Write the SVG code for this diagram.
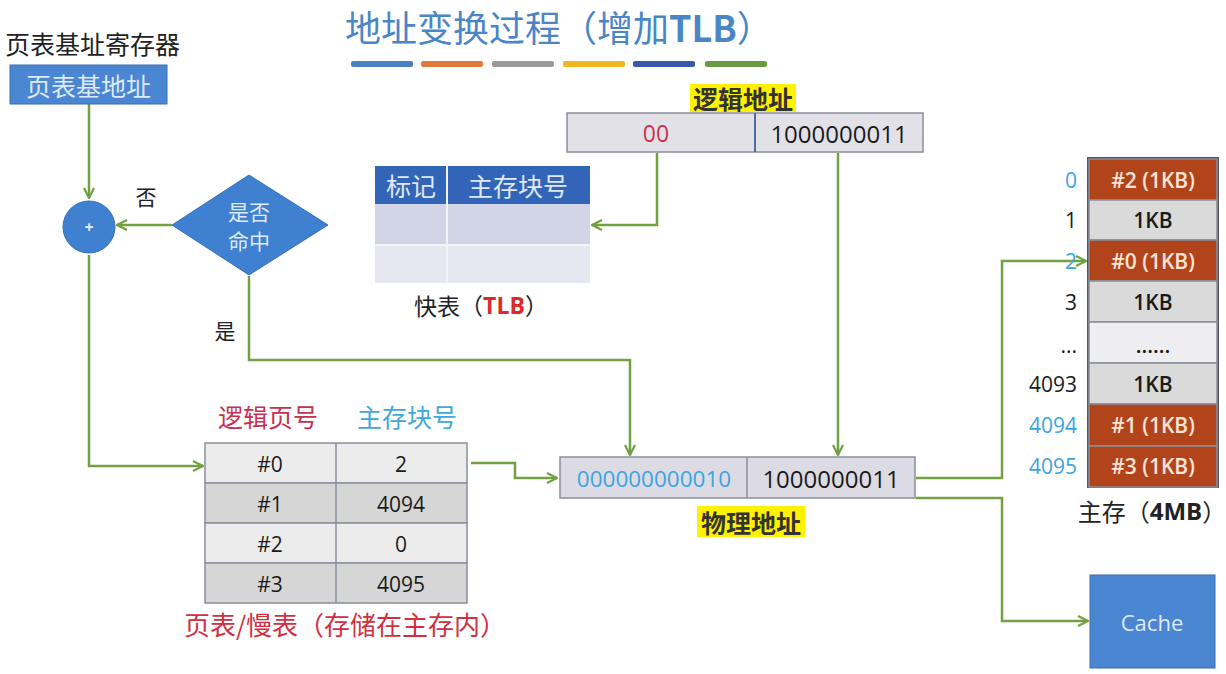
<svg xmlns="http://www.w3.org/2000/svg" width="1226" height="674" viewBox="0 0 1226 674">
  <style>
    .cjk { font-family: "Noto Sans CJK SC", "Liberation Sans", sans-serif; }
    .num { font-family: "Open Sans", "Liberation Sans", sans-serif; }
    .wire { fill: none; stroke: #74a044; stroke-width: 2.5; }
    .cell { stroke: #8a8f9c; stroke-width: 1.5; }
    .mid { text-anchor: middle; dominant-baseline: central; }
  </style>
  <defs>
    <marker id="arrow" viewBox="0 0 12 12" refX="11" refY="6" markerWidth="12" markerHeight="12" markerUnits="userSpaceOnUse" orient="auto">
      <path d="M1,1 L11,6 L1,11" fill="none" stroke="#74a044" stroke-width="2.2"/>
    </marker>
  </defs>

  <rect width="1226" height="674" fill="#ffffff"/>

  <!-- title -->
  <g id="title">
    <text x="345" y="42" class="cjk" font-size="36" fill="#4a86c6">地址变换过程（增加<tspan font-weight="bold">TLB</tspan>）</text>
    <rect x="351" y="61" width="62" height="6" rx="2" fill="#4a7fc0"/>
    <rect x="421" y="61" width="62" height="6" rx="2" fill="#e07a3a"/>
    <rect x="492" y="61" width="62" height="6" rx="2" fill="#9a9a9a"/>
    <rect x="563" y="61" width="62" height="6" rx="2" fill="#f0b820"/>
    <rect x="633" y="61" width="62" height="6" rx="2" fill="#3858a8"/>
    <rect x="705" y="61" width="62" height="6" rx="2" fill="#6a9a44"/>
  </g>

  <!-- connectors -->
  <g id="connectors">
    <path class="wire" d="M89,104 V198" marker-end="url(#arrow)"/>
    <path class="wire" d="M172,225 H117" marker-end="url(#arrow)"/>
    <path class="wire" d="M657,153 V225 H592" marker-end="url(#arrow)"/>
    <path class="wire" d="M838,153 V455" marker-end="url(#arrow)"/>
    <path class="wire" d="M249,276 V360 H630 V455" marker-end="url(#arrow)"/>
    <path class="wire" d="M89,255 V466 H203" marker-end="url(#arrow)"/>
    <path class="wire" d="M471,463 H515 V478 H557" marker-end="url(#arrow)"/>
    <path class="wire" d="M916,478 H1002 V261 H1086" marker-end="url(#arrow)"/>
    <path class="wire" d="M916,498 H1002 V621 H1088" marker-end="url(#arrow)"/>
  </g>

  <!-- page table base register -->
  <g id="ptbr">
    <text x="5" y="54" class="cjk" font-size="25" fill="#222">页表基址寄存器</text>
    <rect x="10" y="65" width="157" height="39" fill="#4a86d2" stroke="#3a6cb0" stroke-width="1"/>
    <text x="88.5" y="85" class="cjk mid" font-size="25" fill="#dfeaf8">页表基地址</text>
  </g>

  <!-- adder -->
  <g id="adder">
    <circle cx="89" cy="227" r="26" fill="#3f80d0" stroke="#3570b8" stroke-width="1"/>
    <text x="89" y="227" class="num mid" font-size="16" font-weight="bold" fill="#e8f0fa">+</text>
  </g>

  <!-- hit decision -->
  <g id="hit">
    <polygon points="249,175 328,225 249,275 172,225" fill="#3f80d0" stroke="#3570b8" stroke-width="1"/>
    <text x="249" y="211" class="cjk mid" font-size="21" fill="#dfeaf8">是否</text>
    <text x="249" y="240" class="cjk mid" font-size="21" fill="#dfeaf8">命中</text>
    <text x="146" y="196" class="cjk mid" font-size="21" fill="#222">否</text>
    <text x="225" y="330" class="cjk mid" font-size="21" fill="#222">是</text>
  </g>

  <!-- TLB -->
  <g id="tlb">
    <rect x="375" y="166" width="215" height="38" fill="#3264b8"/>
    <rect x="375" y="204" width="215" height="41" fill="#d2d5e6"/>
    <rect x="375" y="245" width="215" height="38" fill="#e6e7f1"/>
    <line x1="447" y1="166" x2="447" y2="283" stroke="#f4f4f8" stroke-width="2"/>
    <line x1="375" y1="245" x2="590" y2="245" stroke="#f4f4f8" stroke-width="2"/>
    <text x="411" y="185" class="cjk mid" font-size="25" fill="#e0e8f6">标记</text>
    <text x="518" y="185" class="cjk mid" font-size="25" fill="#e0e8f6">主存块号</text>
    <text x="481" y="305" class="cjk mid" font-size="23" fill="#222">快表（<tspan class="num" font-weight="bold" fill="#e02828">TLB</tspan>）</text>
  </g>

  <!-- logical address -->
  <g id="logical">
    <rect x="690" y="84" width="106" height="28" fill="#fff200"/>
    <text x="743" y="98" class="cjk mid" font-size="25" font-weight="bold" fill="#333">逻辑地址</text>
    <rect x="567" y="113" width="356" height="39" fill="#e2e1e8" stroke="#8a8f9c" stroke-width="1.5"/>
    <line x1="755" y1="113" x2="755" y2="152" stroke="#4a6ea8" stroke-width="2"/>
    <text x="656" y="133" class="num mid" font-size="23" fill="#d0304a">00</text>
    <text x="839" y="133" class="num mid" font-size="24" fill="#1a1a1a">1000000011</text>
  </g>

  <!-- page table -->
  <g id="pagetable">
    <text x="268" y="416" class="cjk mid" font-size="25" fill="#c83050">逻辑页号</text>
    <text x="407" y="416" class="cjk mid" font-size="25" fill="#40a8dc">主存块号</text>
    <rect class="cell" x="205" y="443" width="262" height="40" fill="#ececec"/>
    <rect class="cell" x="205" y="483" width="262" height="40" fill="#d6d6d6"/>
    <rect class="cell" x="205" y="523" width="262" height="40" fill="#ececec"/>
    <rect class="cell" x="205" y="563" width="262" height="40" fill="#d6d6d6"/>
    <line x1="336" y1="443" x2="336" y2="603" stroke="#8a8f9c" stroke-width="1.5"/>
    <g class="num mid" font-size="21" fill="#1a1a1a">
      <text x="270" y="464">#0</text>
      <text x="401" y="464">2</text>
      <text x="270" y="504">#1</text>
      <text x="401" y="504">4094</text>
      <text x="270" y="544">#2</text>
      <text x="401" y="544">0</text>
      <text x="270" y="584">#3</text>
      <text x="401" y="584">4095</text>
    </g>
    <text x="345" y="623" class="cjk mid" font-size="26" fill="#d03040">页表/慢表（存储在主存内）</text>
  </g>

  <!-- physical address -->
  <g id="physical">
    <rect x="560" y="457" width="355" height="41" fill="#dcdbe4" stroke="#8a8f9c" stroke-width="1.5"/>
    <line x1="747" y1="457" x2="747" y2="498" stroke="#8a8f9c" stroke-width="1.5"/>
    <text x="654" y="478" class="num mid" font-size="22.5" fill="#3aa4e0">000000000010</text>
    <text x="831" y="478" class="num mid" font-size="24" fill="#1a1a1a">1000000011</text>
    <rect x="697" y="506" width="108" height="31" fill="#fff200"/>
    <text x="751" y="522" class="cjk mid" font-size="25" font-weight="bold" fill="#333">物理地址</text>
  </g>

  <!-- main memory -->
  <g id="memory">
    <rect x="1088" y="158" width="130" height="329" fill="#f0f0f4" stroke="#555" stroke-width="2"/>
    <rect class="cell" x="1089" y="159" width="128" height="41" fill="#b2441c"/>
    <rect class="cell" x="1089" y="200" width="128" height="40" fill="#dadada"/>
    <rect class="cell" x="1089" y="240" width="128" height="41" fill="#b2441c"/>
    <rect class="cell" x="1089" y="281" width="128" height="41" fill="#dadada"/>
    <rect class="cell" x="1089" y="322" width="128" height="41" fill="#ededf2"/>
    <rect class="cell" x="1089" y="363" width="128" height="41" fill="#dadada"/>
    <rect class="cell" x="1089" y="404" width="128" height="42" fill="#b2441c"/>
    <rect class="cell" x="1089" y="446" width="128" height="41" fill="#b2441c"/>
    <g class="num mid" font-size="21" font-weight="600">
      <text x="1153" y="180" fill="#fbe4d6">#2 (1KB)</text>
      <text x="1153" y="220" fill="#1a1a1a">1KB</text>
      <text x="1153" y="261" fill="#fbe4d6">#0 (1KB)</text>
      <text x="1153" y="302" fill="#1a1a1a">1KB</text>
      <text x="1153" y="345" fill="#1a1a1a">......</text>
      <text x="1153" y="384" fill="#1a1a1a">1KB</text>
      <text x="1153" y="425" fill="#fbe4d6">#1 (1KB)</text>
      <text x="1153" y="466" fill="#fbe4d6">#3 (1KB)</text>
    </g>
    <g class="num" font-size="21" text-anchor="end" dominant-baseline="central">
      <text x="1077" y="180" fill="#3aa4e0">0</text>
      <text x="1077" y="220" fill="#1a1a1a">1</text>
      <text x="1077" y="261" fill="#3aa4e0">2</text>
      <text x="1077" y="302" fill="#1a1a1a">3</text>
      <text x="1077" y="345" fill="#1a1a1a">...</text>
      <text x="1077" y="384" fill="#1a1a1a">4093</text>
      <text x="1077" y="425" fill="#3aa4e0">4094</text>
      <text x="1077" y="466" fill="#3aa4e0">4095</text>
    </g>
    <text x="1152" y="510" class="cjk mid" font-size="24" fill="#222">主存（<tspan class="num" font-weight="bold">4MB</tspan>）</text>
  </g>

  <!-- cache -->
  <g id="cache">
    <rect x="1090" y="575" width="125" height="93" fill="#4a86d2" stroke="#3a6cb0" stroke-width="1"/>
    <text x="1152" y="622" class="num mid" font-size="22" fill="#dfeaf8">Cache</text>
  </g>
</svg>
